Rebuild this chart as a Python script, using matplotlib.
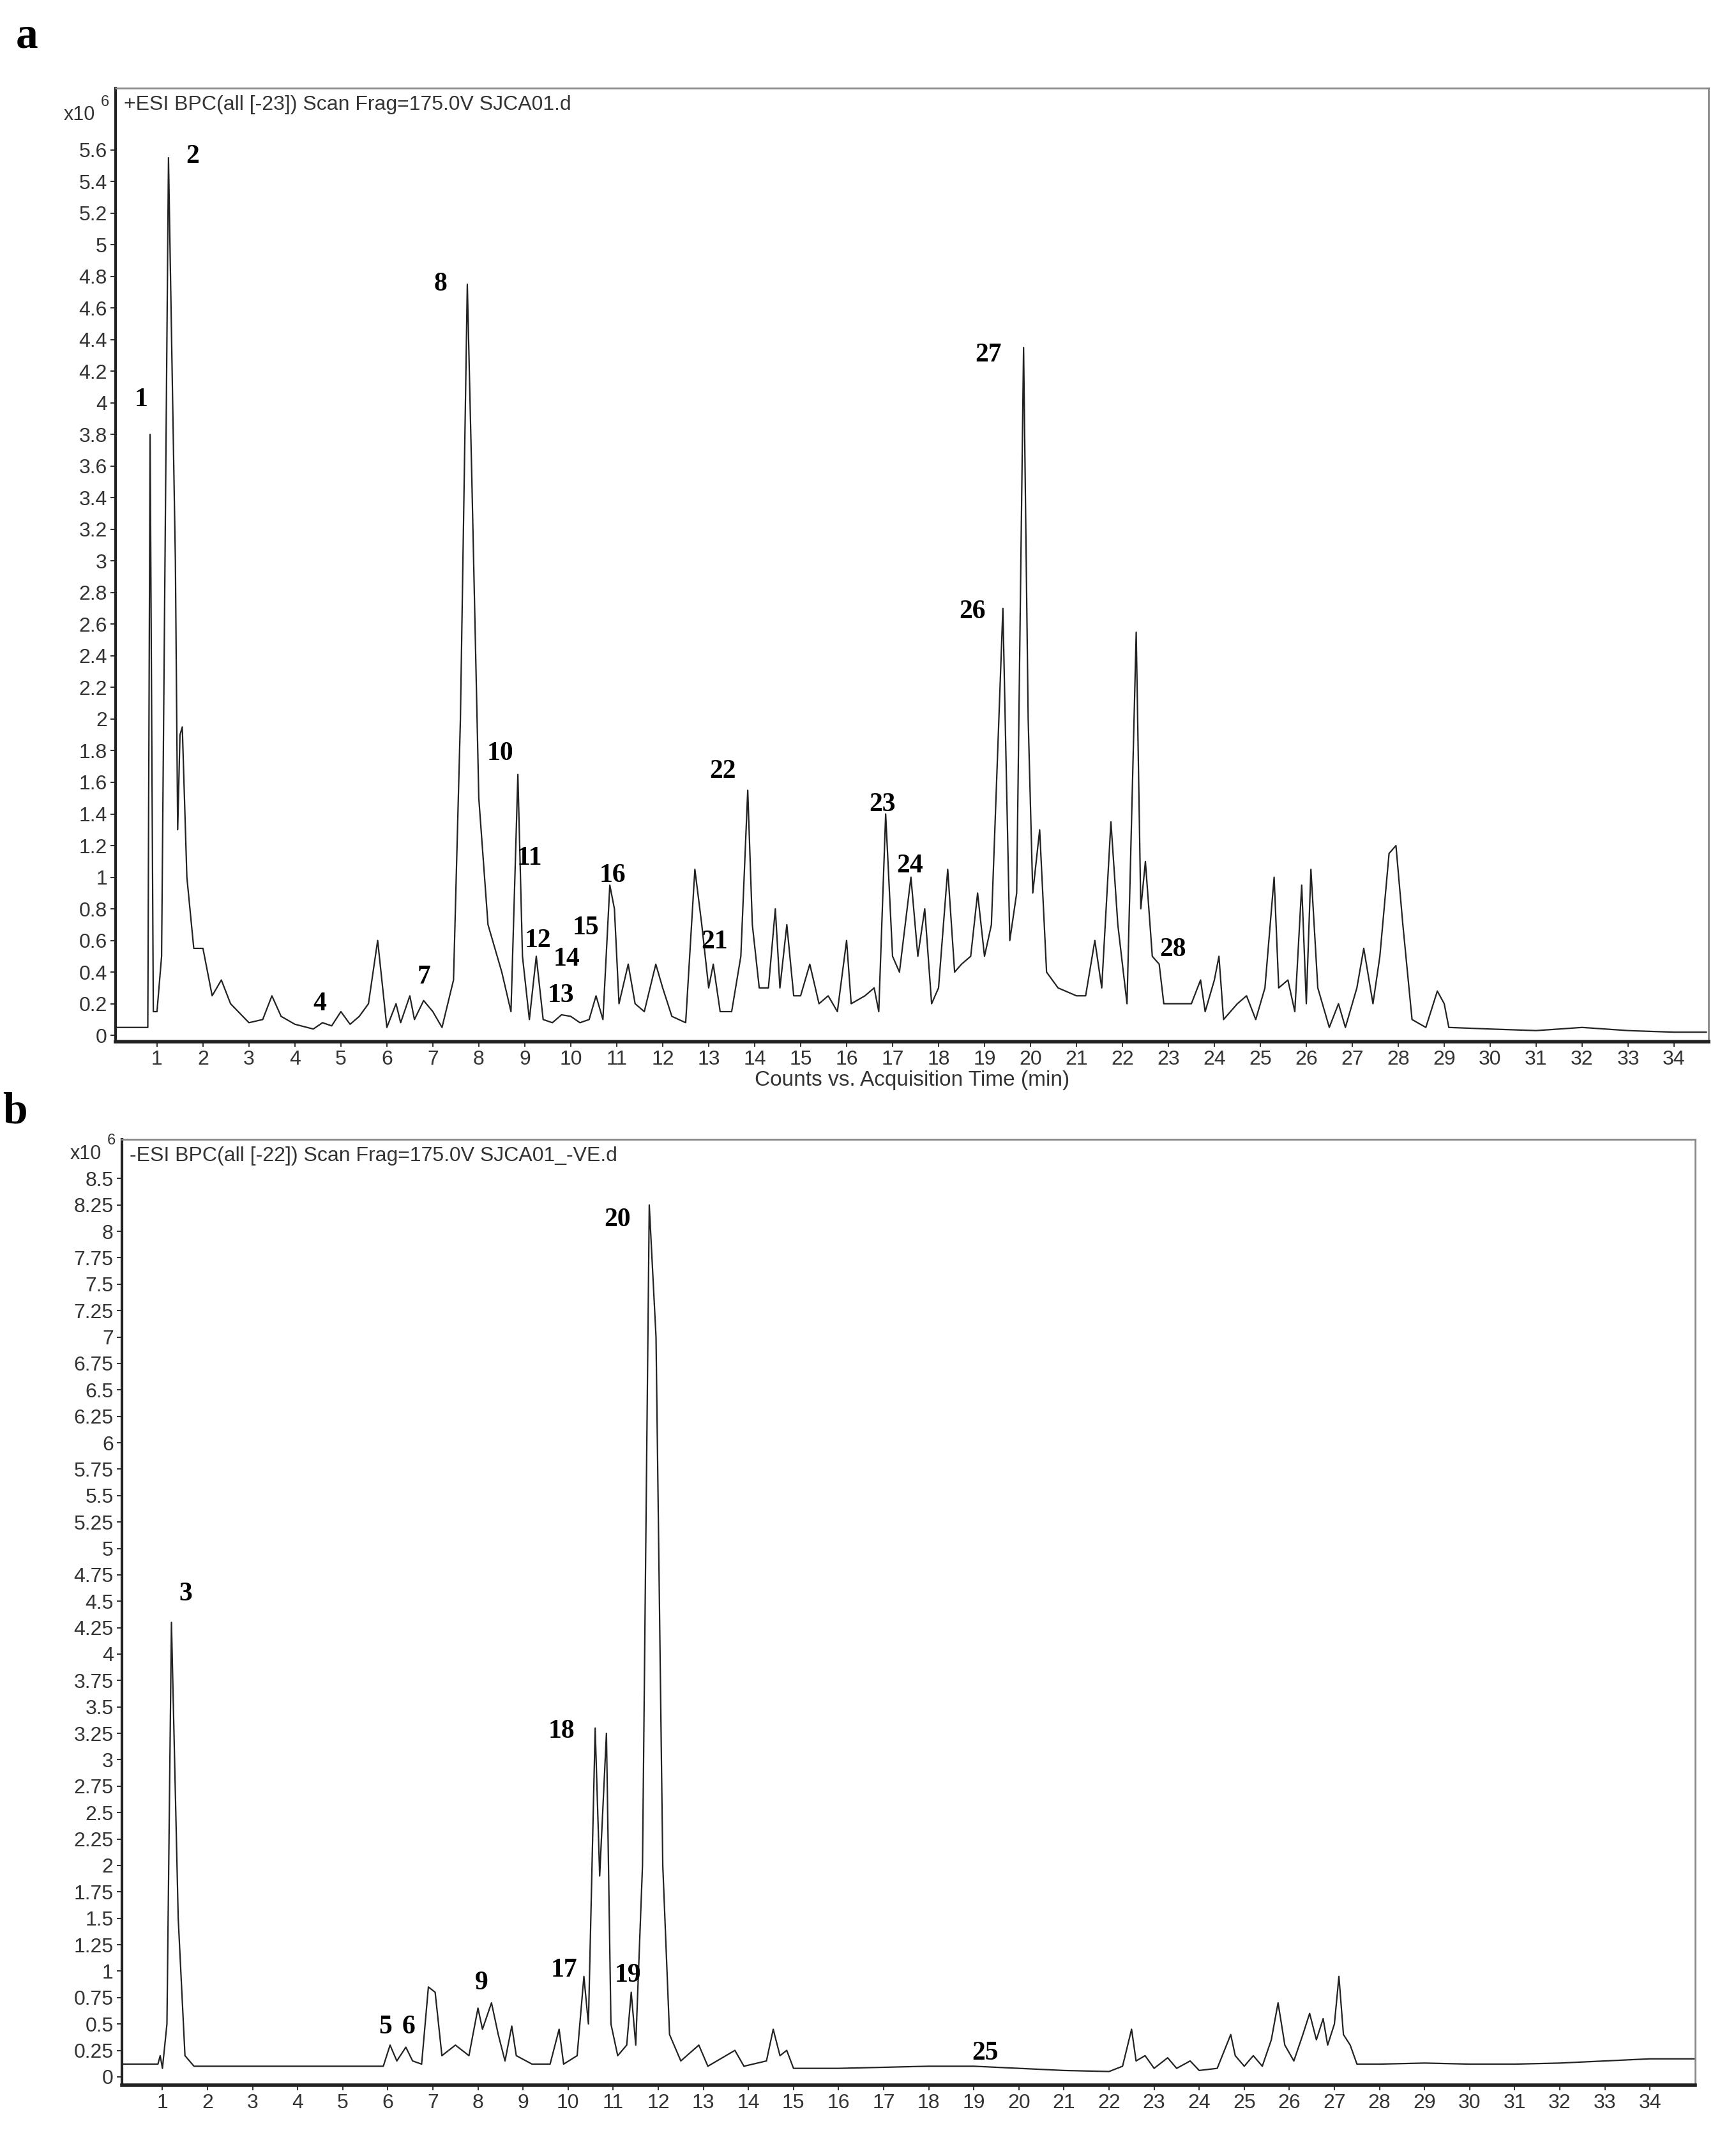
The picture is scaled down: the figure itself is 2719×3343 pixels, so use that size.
import matplotlib
matplotlib.use("Agg")
import matplotlib.pyplot as plt
from matplotlib.ticker import FuncFormatter

plt.rcParams['font.family'] = ['Liberation Sans', 'DejaVu Sans']

# ---- Panel a data (time min, intensity x10^6) ----
a_time = [0.1,0.8,0.85,0.92,1.0,1.1,1.25,1.4,1.45,1.5,1.55,1.65,1.8,2.0,2.1,2.2,2.4,2.6,3.0,3.3,3.5,3.7,4.0,4.4,4.6,4.8,5.0,5.2,5.4,5.6,5.8,6.0,6.2,6.3,6.5,6.6,6.8,7.0,7.2,7.45,7.6,7.75,7.85,8.0,8.2,8.5,8.7,8.85,8.95,9.1,9.25,9.4,9.6,9.8,10.0,10.2,10.4,10.55,10.7,10.85,10.95,11.05,11.25,11.4,11.6,11.85,12.0,12.2,12.5,12.7,12.85,13.0,13.1,13.25,13.5,13.7,13.85,13.95,14.1,14.3,14.45,14.55,14.7,14.85,15.0,15.2,15.4,15.6,15.8,16.0,16.1,16.4,16.6,16.7,16.85,17.0,17.15,17.4,17.55,17.7,17.85,18.0,18.2,18.35,18.5,18.7,18.85,19.0,19.15,19.4,19.55,19.7,19.85,19.95,20.05,20.2,20.35,20.6,21.0,21.2,21.4,21.55,21.75,21.9,22.1,22.3,22.4,22.5,22.65,22.8,22.9,23.2,23.5,23.7,23.8,24.0,24.1,24.2,24.5,24.7,24.9,25.1,25.3,25.4,25.6,25.75,25.9,26.0,26.1,26.25,26.5,26.7,26.85,27.1,27.25,27.45,27.6,27.8,27.95,28.1,28.3,28.6,28.85,29.0,29.1,30,31,32,33,34,34.7]
a_int = [0.05,0.05,3.8,0.15,0.15,0.5,5.55,3.0,1.3,1.9,1.95,1.0,0.55,0.55,0.4,0.25,0.35,0.2,0.08,0.1,0.25,0.12,0.07,0.04,0.08,0.06,0.15,0.07,0.12,0.2,0.6,0.05,0.2,0.08,0.25,0.1,0.22,0.15,0.05,0.35,2.0,4.75,3.5,1.5,0.7,0.4,0.15,1.65,0.5,0.1,0.5,0.1,0.08,0.13,0.12,0.08,0.1,0.25,0.1,0.95,0.8,0.2,0.45,0.2,0.15,0.45,0.3,0.12,0.08,1.05,0.7,0.3,0.45,0.15,0.15,0.5,1.55,0.7,0.3,0.3,0.8,0.3,0.7,0.25,0.25,0.45,0.2,0.25,0.15,0.6,0.2,0.25,0.3,0.15,1.4,0.5,0.4,1.0,0.5,0.8,0.2,0.3,1.05,0.4,0.45,0.5,0.9,0.5,0.7,2.7,0.6,0.9,4.35,2.0,0.9,1.3,0.4,0.3,0.25,0.25,0.6,0.3,1.35,0.7,0.2,2.55,0.8,1.1,0.5,0.45,0.2,0.2,0.2,0.35,0.15,0.35,0.5,0.1,0.2,0.25,0.1,0.3,1.0,0.3,0.35,0.15,0.95,0.2,1.05,0.3,0.05,0.2,0.05,0.3,0.55,0.2,0.5,1.15,1.2,0.7,0.1,0.05,0.28,0.2,0.05,0.04,0.03,0.05,0.03,0.02,0.02]
a_labels = ["1","2","4","7","8","10","11","12","13","14","15","16","21","22","23","24","26","27","28"]
a_lab_x = [0.65,1.77,4.54,6.81,7.17,8.47,9.11,9.29,9.79,9.91,10.32,10.91,13.13,13.3,16.78,17.37,18.73,19.09,23.1]
a_lab_y = [4.02,5.56,0.2,0.37,4.75,1.78,1.12,0.6,0.25,0.48,0.68,1.01,0.59,1.67,1.46,1.07,2.68,4.30,0.54]

# ---- Panel b data ----
b_time = [0.1,0.9,0.95,1.0,1.1,1.2,1.35,1.5,1.7,3.0,4.5,5.7,5.9,6.05,6.2,6.4,6.55,6.75,6.9,7.05,7.2,7.5,7.8,8.0,8.1,8.3,8.45,8.6,8.75,8.85,9.2,9.6,9.8,9.9,10.2,10.35,10.45,10.6,10.7,10.85,10.95,11.1,11.3,11.4,11.5,11.65,11.8,11.95,12.1,12.25,12.5,12.9,13.1,13.7,13.9,14.4,14.55,14.7,14.85,15.0,16,17,18,19,20,21,22,22.3,22.5,22.6,22.8,23,23.3,23.5,23.8,24.0,24.4,24.7,24.8,25.0,25.2,25.4,25.6,25.75,25.9,26.1,26.3,26.45,26.6,26.75,26.85,27.0,27.1,27.2,27.35,27.5,28,29,30,31,32,33,34,35]
b_int = [0.12,0.12,0.2,0.08,0.5,4.3,1.5,0.2,0.1,0.1,0.1,0.1,0.1,0.3,0.15,0.28,0.15,0.12,0.85,0.8,0.2,0.3,0.2,0.65,0.45,0.7,0.4,0.15,0.48,0.2,0.12,0.12,0.45,0.12,0.2,0.95,0.5,3.3,1.9,3.25,0.5,0.2,0.3,0.8,0.3,2.0,8.25,7.0,2.0,0.4,0.15,0.3,0.1,0.25,0.1,0.15,0.45,0.2,0.25,0.08,0.08,0.09,0.1,0.1,0.08,0.06,0.05,0.1,0.45,0.15,0.2,0.08,0.18,0.08,0.15,0.06,0.08,0.4,0.2,0.1,0.2,0.1,0.35,0.7,0.3,0.15,0.4,0.6,0.35,0.55,0.3,0.5,0.95,0.4,0.3,0.12,0.12,0.13,0.12,0.12,0.13,0.15,0.17,0.17]
b_labels = ["3","5","6","9","17","18","19","20","25"]
b_lab_x = [1.51,5.94,6.46,8.08,9.91,9.85,11.33,11.09,19.25]
b_lab_y = [4.57,0.47,0.47,0.89,1.01,3.27,0.96,8.11,0.22]

fig = plt.figure(figsize=(27.19, 33.43), dpi=100)
ax1 = fig.add_axes([0.0666, 0.5121, 0.9176, 0.4466])
ax2 = fig.add_axes([0.0702, 0.0233, 0.9062, 0.4430])

serif = {"family": "Liberation Serif", "weight": "bold"}
fmt = FuncFormatter(lambda v, p: ("%g" % round(v, 2)))

def style(ax, ymax_tick, ystep, xlim, ylim, title, xy):
    ax.set_xlim(*xlim)
    ax.set_ylim(*ylim)
    yt = [round(i * ystep, 2) for i in range(int(round(ymax_tick / ystep)) + 1)]
    ax.set_yticks(yt)
    ax.yaxis.set_major_formatter(fmt)
    ax.set_xticks(list(range(1, 35)))
    ax.tick_params(axis="both", labelsize=23, colors="#333333", length=6, width=1.5, direction="out")
    for s in ["top", "right"]:
        ax.spines[s].set_color("#888888"); ax.spines[s].set_linewidth(2)
    ax.spines["left"].set_linewidth(3); ax.spines["bottom"].set_linewidth(4)
    ax.spines["left"].set_color("#222222"); ax.spines["bottom"].set_color("#222222")
    ax.text(0.005, 0.993, title, transform=ax.transAxes, ha="left", va="top", fontsize=23, color="#333333")
    ax.text(-0.013, xy, "x10", transform=ax.transAxes, ha="right", va="top", fontsize=22, color="#333333")
    ax.text(-0.004, xy + 0.011, "6", transform=ax.transAxes, ha="right", va="top", fontsize=17, color="#333333")

ax1.plot(a_time, a_int, color="#222222", lw=1.6)
style(ax1, 5.6, 0.2, (0.1, 34.75), (-0.04, 5.99), "+ESI BPC(all [-23]) Scan Frag=175.0V SJCA01.d", 0.982)
ax1.set_xlabel("Counts vs. Acquisition Time (min)", fontsize=24, color="#333333", labelpad=1)
for t, x, y in zip(a_labels, a_lab_x, a_lab_y):
    ax1.text(x, y, t, ha="center", va="center", fontsize=30, fontdict=serif)

ax2.plot(b_time, b_int, color="#222222", lw=1.6)
style(ax2, 8.5, 0.25, (0.1, 35.0), (-0.08, 8.87), "-ESI BPC(all [-22]) Scan Frag=175.0V SJCA01_-VE.d", 0.995)
for t, x, y in zip(b_labels, b_lab_x, b_lab_y):
    ax2.text(x, y, t, ha="center", va="center", fontsize=30, fontdict=serif)

fig.text(0.0155, 0.9925, "a", ha="center", va="top", fontsize=50, fontdict=serif)
fig.text(0.0085, 0.4885, "b", ha="center", va="top", fontsize=50, fontdict=serif)

fig.savefig("out.png", dpi=100)
